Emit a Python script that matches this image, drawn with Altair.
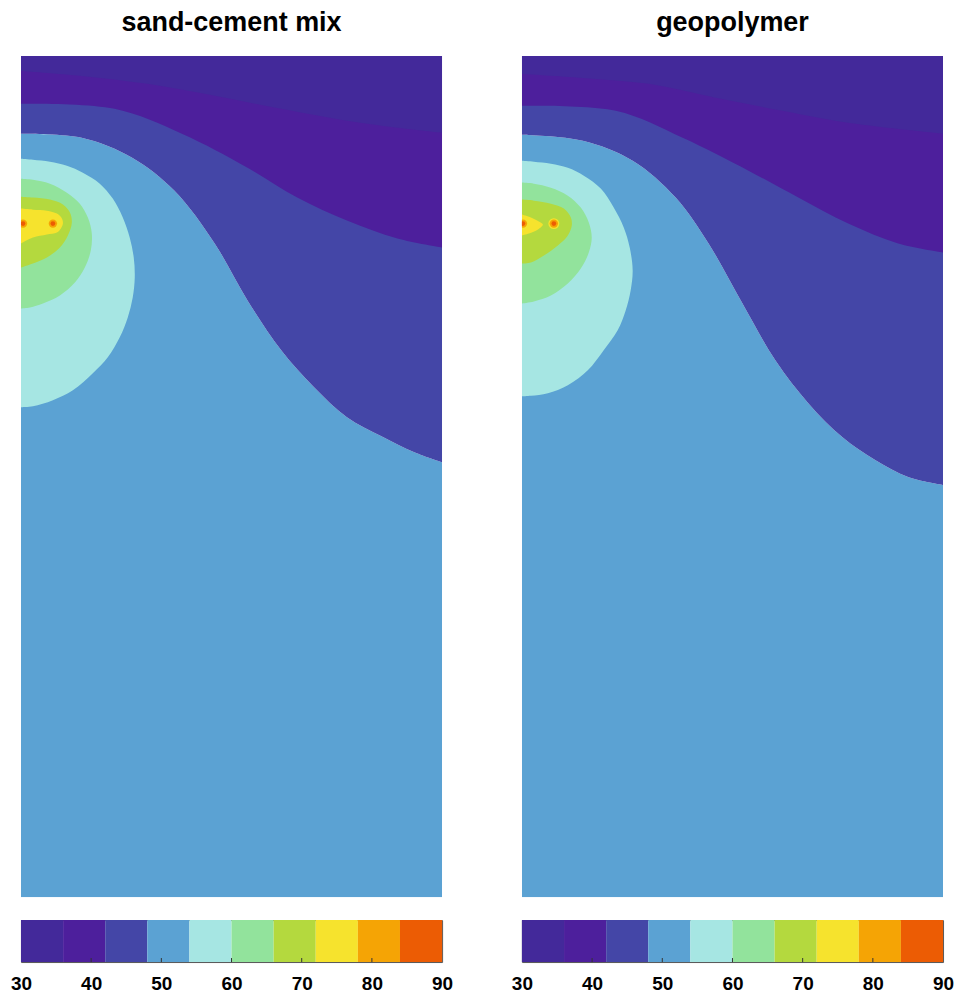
import altair as alt
import pandas as pd

# ---------------- colour levels ----------------
LEVELS = [30, 36, 42, 48, 54, 60, 66, 72, 78, 84, 90]
COLORS = ["#43299A", "#4D1F9C", "#4446A7", "#5BA2D3", "#A6E6E3",
          "#92E39C", "#B4D93E", "#F6E32D", "#F5A405", "#EC5C04"]
TICK_LABELS = [30, 40, 50, 60, 70, 80, 90]
TITLES = ["sand-cement mix", "geopolymer"]
WIDTH_UNITS = 50
DEPTH_UNITS = 100

# ---------------- sand-cement mix ----------------
SC_A_X = [0, 7.2, 15.0, 23.0, 30.9, 38.7, 44.7, 50]
SC_A_Y = [1.78, 2.37, 3.32, 4.74, 6.29, 7.71, 8.54, 9.13]
SC_B_X = [0, 11.1, 19.1, 26.9, 32.8, 38.7, 44.7, 50]
SC_B_Y = [5.69, 6.29, 9.25, 13.29, 16.84, 19.57, 21.71, 22.78]
SC_C_X = [0, 7.2, 13.2, 18.2, 23.0, 26.9, 30.9, 34.8, 38.7, 42.8, 46.7, 50]
SC_C_Y = [9.25, 9.73, 12.10, 16.01, 22.30, 29.06, 34.99, 39.38, 42.94, 45.20, 47.10, 48.30]

SC_CYAN_Y = [12.22, 12.34, 12.57, 13.05, 13.88, 15.18, 16.96, 19.22, 21.59, 23.96, 26.33,
             28.71, 31.08, 33.45, 35.82, 37.72, 39.74, 40.92, 41.64, 41.75]
SC_CYAN_X = [0, 1.42, 3.44, 5.45, 7.35, 9.36, 10.90, 12.09, 12.91, 13.39, 13.51,
             13.27, 12.68, 11.73, 10.31, 8.53, 6.16, 3.79, 1.42, 0]
SC_GREEN_Y = [14.59, 14.71, 15.18, 16.25, 17.56, 19.22, 21.11, 23.13, 25.15, 26.93, 28.47,
              29.42, 29.89, 30.01]
SC_GREEN_X = [0, 1.42, 3.44, 5.45, 6.99, 7.94, 8.41, 8.29, 7.58, 6.40, 4.62, 2.61, 1.07, 0]
SC_LIME_Y = [16.73, 16.84, 17.08, 17.67, 18.62, 19.81, 21.35, 22.78, 23.96, 24.67, 25.15]
SC_LIME_X = [0, 1.42, 3.44, 4.98, 5.81, 6.04, 5.57, 4.62, 3.08, 1.42, 0]
SC_YELLOW_Y = [18.15, 18.27, 18.39, 18.74, 19.33, 19.93, 20.52, 20.99, 21.23, 21.59, 22.30]
SC_YELLOW_X = [0, 1.42, 3.08, 4.27, 4.86, 4.98, 4.74, 4.27, 3.08, 1.42, 0]
SC_BULB_X = []
SC_BULB_Y = []
SC_HOT_X = [0.24, 3.79]
SC_HOT_Y = [19.93, 19.93]

# ---------------- geopolymer ----------------
GP_A_X = [0, 7.2, 15.05, 22.99, 30.92, 38.74, 50]
GP_A_Y = [2.14, 2.61, 3.32, 4.98, 6.52, 7.95, 9.25]
GP_B_X = [0, 11.14, 19.08, 26.90, 32.82, 38.74, 44.67, 50]
GP_B_Y = [5.93, 6.52, 9.73, 13.64, 16.84, 19.93, 22.30, 23.37]
GP_C_X = [0, 7.23, 13.15, 18.25, 22.16, 26.19, 30.09, 34.00, 38.03, 41.94, 45.85, 50]
GP_C_Y = [9.37, 10.08, 12.46, 16.84, 22.30, 29.42, 36.18, 41.28, 45.31, 48.04, 50.06, 51.01]

GP_CYAN_Y = [12.46, 12.57, 12.81, 13.29, 14.23, 15.77, 18.03, 20.40, 22.78, 25.50, 27.88,
             30.25, 32.62, 34.99, 37.37, 39.14, 40.09, 40.39, 40.45]
GP_CYAN_X = [0, 1.42, 3.44, 5.45, 7.35, 9.36, 10.90, 12.09, 12.80, 13.15, 12.91,
             12.32, 11.37, 9.71, 7.82, 5.45, 3.08, 1.07, 0]
GP_GREEN_Y = [15.05, 15.18, 15.66, 16.61, 18.03, 19.81, 21.59, 23.37, 25.27, 27.05, 28.47,
              29.18, 29.42]
GP_GREEN_X = [0, 1.42, 3.44, 5.45, 6.99, 7.94, 8.29, 7.94, 6.99, 5.45, 3.44, 1.42, 0]
GP_LIME_Y = [17.08, 17.20, 17.56, 18.15, 19.22, 20.17, 21.35, 22.54, 23.72, 24.55, 24.67]
GP_LIME_X = [0, 1.42, 3.44, 4.98, 5.81, 5.92, 5.45, 4.27, 2.61, 1.07, 0]
GP_YELLOW_Y = [18.86, 19.22, 19.69, 20.05, 20.64, 21.11, 21.35]
GP_YELLOW_X = [0, 1.07, 2.01, 2.49, 1.90, 0.83, 0]
GP_BULB_X = [3.79]
GP_BULB_Y = [19.93]
GP_HOT_X = [0.12, 3.79]
GP_HOT_Y = [19.93, 19.93]

FONT = "Liberation Sans"

xs = alt.Scale(domain=[0, WIDTH_UNITS], nice=False, zero=False)
ys = alt.Scale(domain=[0, DEPTH_UNITS], reverse=True, nice=False, zero=False)


def band(xv, yv, color, edge):
    df = pd.DataFrame({"x": xv, "y": yv})
    return alt.Chart(df).mark_area(interpolate="catmull-rom", clip=True, color=color).encode(
        x=alt.X("x:Q", scale=xs, axis=None),
        y=alt.Y("y:Q", scale=ys, axis=None),
        y2=alt.datum(edge),
    )


def blob(xv, yv, color):
    df = pd.DataFrame({"x": xv, "y": yv})
    return alt.Chart(df).mark_area(orient="horizontal", interpolate="catmull-rom",
                                   clip=True, color=color).encode(
        y=alt.Y("y:Q", scale=ys, axis=None),
        x=alt.X("x:Q", scale=xs, axis=None),
        x2=alt.datum(0),
    )


def dots(xv, yv, color, size):
    df = pd.DataFrame({"x": xv, "y": yv})
    return alt.Chart(df).mark_circle(clip=True, color=color, opacity=1, size=size).encode(
        x=alt.X("x:Q", scale=xs, axis=None),
        y=alt.Y("y:Q", scale=ys, axis=None),
    )


def panel(d, title):
    layers = [
        band(d["CX"], d["CY"], COLORS[3], DEPTH_UNITS),
        band(d["CX"], d["CY"], COLORS[2], 0),
        band(d["BX"], d["BY"], COLORS[1], 0),
        band(d["AX"], d["AY"], COLORS[0], 0),
        blob(d["cyanX"], d["cyanY"], COLORS[4]),
        blob(d["greenX"], d["greenY"], COLORS[5]),
        blob(d["limeX"], d["limeY"], COLORS[6]),
        blob(d["yelX"], d["yelY"], COLORS[7]),
    ]
    if d["bulbX"]:
        layers.append(dots(d["bulbX"], d["bulbY"], COLORS[7], 120))
    layers.append(dots(d["hotX"], d["hotY"], COLORS[8], 70))
    layers.append(dots(d["hotX"], d["hotY"], COLORS[9], 22))
    return alt.layer(*layers).properties(
        width=422, height=843,
        title=alt.TitleParams(title, fontSize=27, font=FONT, fontWeight="bold",
                              anchor="middle", color="black", offset=19),
    )


def colorbar():
    bins = pd.DataFrame({"lo": LEVELS[:-1], "hi": LEVELS[1:], "c": COLORS})
    cs = alt.Scale(domain=[LEVELS[0], LEVELS[-1]], nice=False, zero=False)
    rects = alt.Chart(bins).mark_rect().encode(
        x=alt.X("lo:Q", scale=cs,
                axis=alt.Axis(values=TICK_LABELS, ticks=False, domain=False, grid=False,
                              labelFontSize=19, labelFont=FONT, labelFontWeight="bold",
                              labelColor="black", labelPadding=13, labelFlush=False,
                              title=None)),
        x2="hi:Q",
        color=alt.Color("c:N", scale=None, legend=None),
    )
    ticks = alt.Chart(pd.DataFrame({"v": TICK_LABELS[1:-1]})).mark_rule(
        color="#333333", strokeWidth=1).encode(
        x=alt.X("v:Q", scale=cs),
        y=alt.value(38), y2=alt.value(42),
    )
    return alt.layer(rects, ticks).properties(
        width=422, height=42,
        view=alt.ViewBackground(stroke="#555555", strokeWidth=1),
    )


SC = dict(AX=SC_A_X, AY=SC_A_Y, BX=SC_B_X, BY=SC_B_Y, CX=SC_C_X, CY=SC_C_Y,
          cyanX=SC_CYAN_X, cyanY=SC_CYAN_Y, greenX=SC_GREEN_X, greenY=SC_GREEN_Y,
          limeX=SC_LIME_X, limeY=SC_LIME_Y, yelX=SC_YELLOW_X, yelY=SC_YELLOW_Y,
          bulbX=SC_BULB_X, bulbY=SC_BULB_Y, hotX=SC_HOT_X, hotY=SC_HOT_Y)
GP = dict(AX=GP_A_X, AY=GP_A_Y, BX=GP_B_X, BY=GP_B_Y, CX=GP_C_X, CY=GP_C_Y,
          cyanX=GP_CYAN_X, cyanY=GP_CYAN_Y, greenX=GP_GREEN_X, greenY=GP_GREEN_Y,
          limeX=GP_LIME_X, limeY=GP_LIME_Y, yelX=GP_YELLOW_X, yelY=GP_YELLOW_Y,
          bulbX=GP_BULB_X, bulbY=GP_BULB_Y, hotX=GP_HOT_X, hotY=GP_HOT_Y)

col1 = alt.vconcat(panel(SC, TITLES[0]), colorbar(), spacing=22)
col2 = alt.vconcat(panel(GP, TITLES[1]), colorbar(), spacing=22)

chart = alt.hconcat(col1, col2, spacing=56).properties(
    padding={"left": 1, "top": 0, "right": 4, "bottom": 0},
    background="white",
).configure_view(stroke=None)

chart.save("out.html", embed_options={"renderer": "svg", "actions": False})
